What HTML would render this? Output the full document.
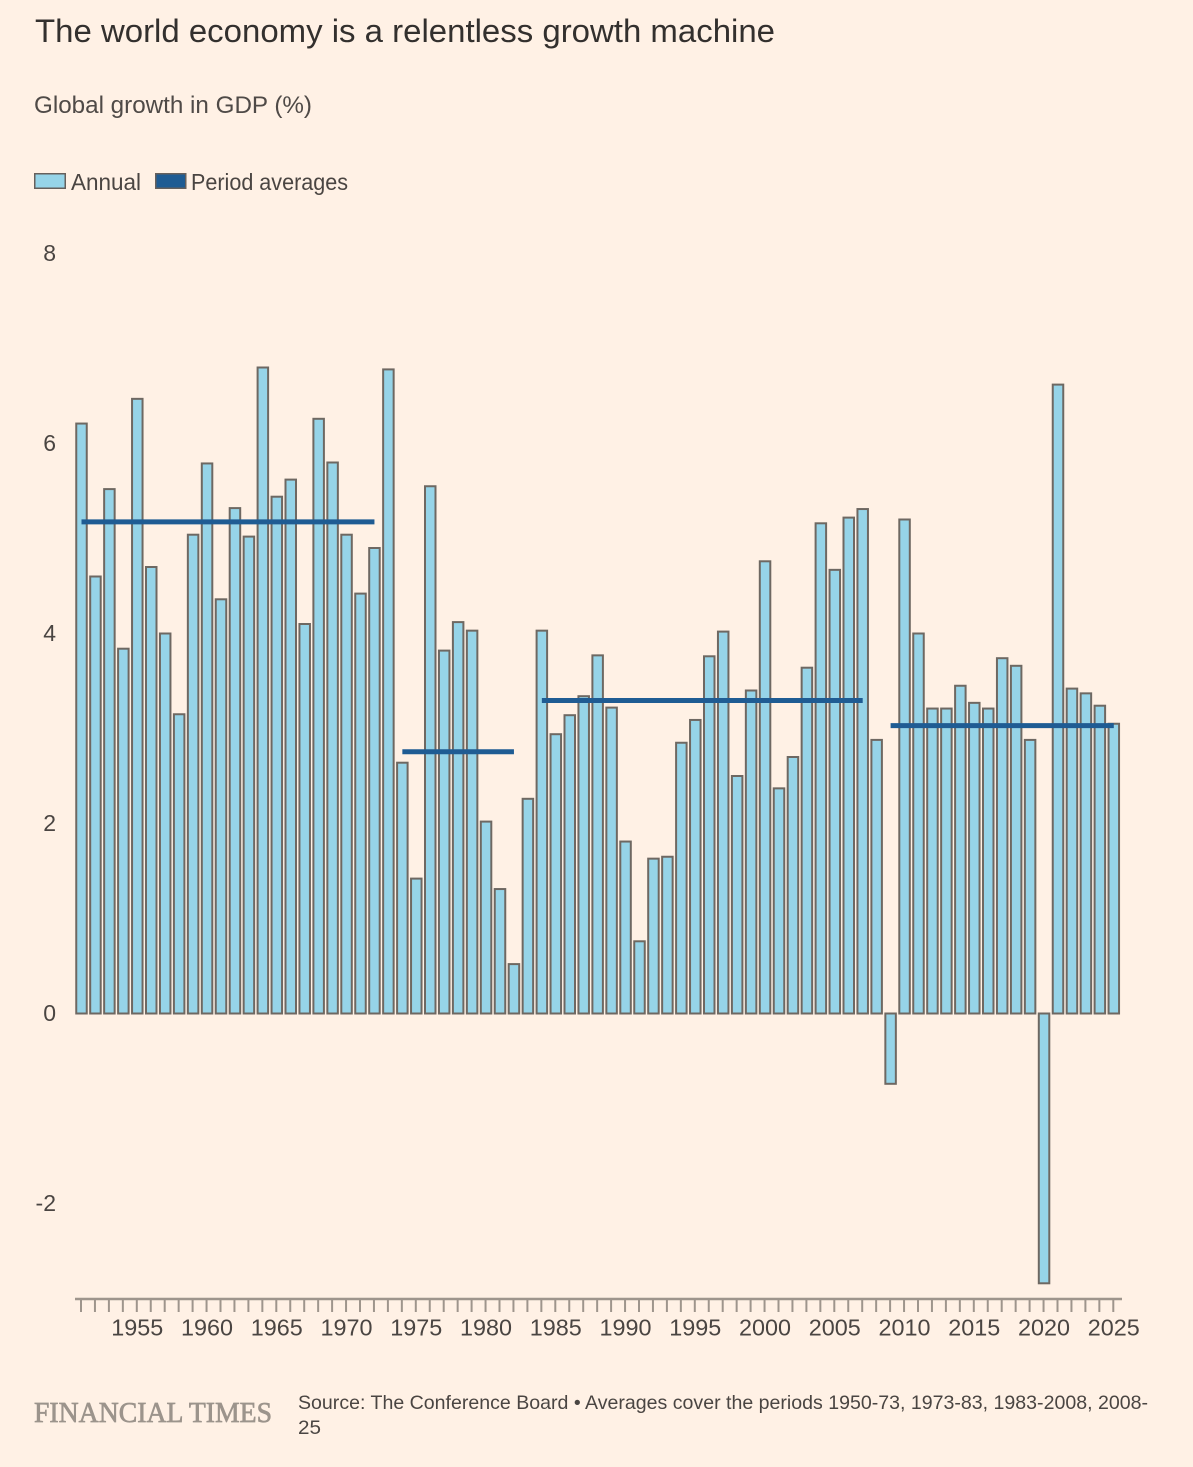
<!DOCTYPE html>
<html lang="en">
<head>
<meta charset="utf-8">
<title>The world economy is a relentless growth machine</title>
<style>
html,body{margin:0;padding:0;background:#fff1e5;}
svg{display:block;font-family:"Liberation Sans",sans-serif;}
</style>
</head>
<body>
<svg id="chart" xmlns="http://www.w3.org/2000/svg" width="1193" height="1467" viewBox="0 0 1193 1467">
<rect x="0" y="0" width="1193" height="1467" fill="#fff1e5"/>
<text x="35" y="42" font-size="32" fill="#33302e" textLength="740" lengthAdjust="spacingAndGlyphs">The world economy is a relentless growth machine</text>
<text x="34" y="113" font-size="24" fill="#4f4a47" textLength="278" lengthAdjust="spacingAndGlyphs">Global growth in GDP (%)</text>
<g>
<rect x="34.75" y="173.75" width="30.5" height="14.5" fill="#96d4e8" stroke="#66605c" stroke-width="1.5"/>
<text x="71" y="190" font-size="23" fill="#4a4542" textLength="70" lengthAdjust="spacingAndGlyphs">Annual</text>
<rect x="155.75" y="173.75" width="30" height="14.5" fill="#1f5c93" stroke="#66605c" stroke-width="1.5"/>
<text x="191" y="190" font-size="23" fill="#4a4542" textLength="157" lengthAdjust="spacingAndGlyphs">Period averages</text>
</g>
<g id="y-axis"></g>
<g id="bars"></g>
<g id="averages"></g>
<g id="x-axis"></g>
<text x="34" y="1422" font-size="29" font-weight="400" fill="#9c948c" stroke="#9c948c" stroke-width="0.7" style="font-family:'Liberation Serif',serif" textLength="238" lengthAdjust="spacingAndGlyphs">FINANCIAL TIMES</text>
<text x="298" y="1409" font-size="19.5" fill="#4a4542" textLength="850" lengthAdjust="spacingAndGlyphs">Source: The Conference Board • Averages cover the periods 1950-73, 1973-83, 1983-2008, 2008-</text>
<text x="298" y="1434" font-size="19.5" fill="#4a4542" textLength="23" lengthAdjust="spacingAndGlyphs">25</text>
</svg>
<script>
const firstYear = 1951;
const annualGrowth = [
  6.21, 4.60, 5.52, 3.84, 6.47, 4.70, 4.00, 3.15, 5.04, 5.79,
  4.36, 5.32, 5.02, 6.80, 5.44, 5.62, 4.10, 6.26, 5.80, 5.04,
  4.42, 4.90, 6.78, 2.64, 1.42, 5.55, 3.82, 4.12, 4.03, 2.02,
  1.31, 0.52, 2.26, 4.03, 2.94, 3.14, 3.34, 3.77, 3.22, 1.81,
  0.76, 1.63, 1.65, 2.85, 3.09, 3.76, 4.02, 2.50, 3.40, 4.76,
  2.37, 2.70, 3.64, 5.16, 4.67, 5.22, 5.31, 2.88, -0.74, 5.20,
  4.00, 3.21, 3.21, 3.45, 3.27, 3.21, 3.74, 3.66, 2.88, -2.84,
  6.62, 3.42, 3.37, 3.24, 3.05
];
const averageStartYears = [1951, 1974, 1984, 2009];
const averageEndYears = [1972, 1982, 2007, 2025];
const averageValues = [5.175, 2.755, 3.295, 3.03];
const yTickValues = [8, 6, 4, 2, 0, -2];
const xTickLabels = [1955, 1960, 1965, 1970, 1975, 1980, 1985, 1990, 1995, 2000, 2005, 2010, 2015, 2020, 2025];

const NS = 'http://www.w3.org/2000/svg';
function xScale(year) { return 81.5 + (year - 1951) * 13.95; }
function yScale(value) { return 1013.5 - value * 95; }
function make(tag, attrs, parent) {
  const el = document.createElementNS(NS, tag);
  for (const k in attrs) el.setAttribute(k, attrs[k]);
  parent.appendChild(el);
  return el;
}

const yAxis = document.getElementById('y-axis');
yTickValues.forEach(function (v) {
  const t = make('text', { x: 56, y: yScale(v) + 7.5, 'text-anchor': 'end', 'font-size': 23, fill: '#4a4542' }, yAxis);
  
  
  t.textContent = String(v);
});

const barsGroup = document.getElementById('bars');
annualGrowth.forEach(function (v, i) {
  const year = firstYear + i;
  const y0 = yScale(0), y1 = yScale(v);
  const r = make('rect', {
    x: xScale(year) - 5.25, y: Math.min(y0, y1), width: 10.5, height: Math.abs(y1 - y0),
    fill: '#96d4e8', stroke: '#6e6862', 'stroke-width': 2
  }, barsGroup);
  
  
});

const avgGroup = document.getElementById('averages');
averageValues.forEach(function (v, i) {
  const l = make('line', {
    x1: xScale(averageStartYears[i]), x2: xScale(averageEndYears[i]),
    y1: yScale(v), y2: yScale(v), stroke: '#1f5c93', 'stroke-width': 5
  }, avgGroup);
  
  
});

const xAxis = document.getElementById('x-axis');
const axisLine = make('line', { x1: 75, x2: 1122, y1: 1299, y2: 1299, stroke: '#9e958c', 'stroke-width': 2.5 }, xAxis);


annualGrowth.forEach(function (v, i) {
  const year = firstYear + i;
  const t = make('line', { x1: xScale(year) - 0.5, x2: xScale(year) - 0.5, y1: 1299, y2: 1312, stroke: '#9e958c', 'stroke-width': 2 }, xAxis);
  
  
});
xTickLabels.forEach(function (year) {
  const t = make('text', { x: xScale(year), y: 1335.5, 'text-anchor': 'middle', 'font-size': 23.5, fill: '#4a4542', textLength: 52, lengthAdjust: 'spacingAndGlyphs' }, xAxis);
  
  
  t.textContent = String(year);
});
</script>
</body>
</html>
